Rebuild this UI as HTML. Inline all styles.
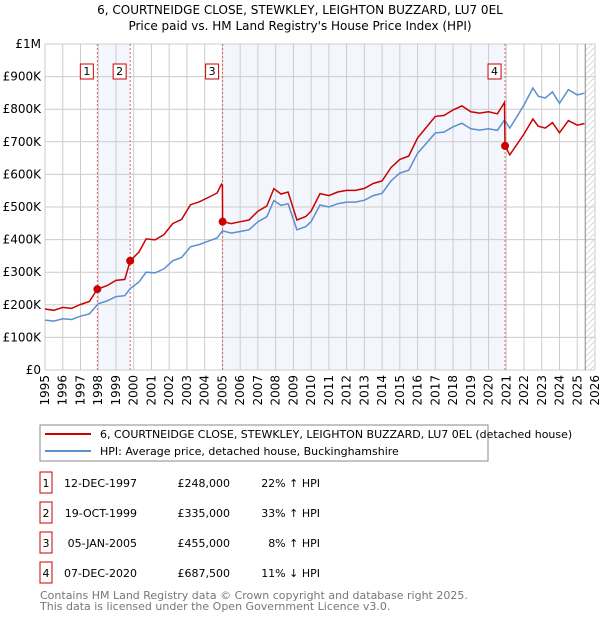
<!DOCTYPE html>
<html><head><meta charset="utf-8">
<style>
body{margin:0;background:#fff;font-family:"DejaVu Sans","Liberation Sans",sans-serif;}
svg{display:block}
</style></head><body>
<svg id="c" width="600" height="620" viewBox="0 0 600 620" xmlns="http://www.w3.org/2000/svg">
<text x="300" y="14" text-anchor="middle" font-size="12" fill="#000">6, COURTNEIDGE CLOSE, STEWKLEY, LEIGHTON BUZZARD, LU7 0EL</text>
<text x="300" y="30" text-anchor="middle" font-size="12" fill="#000">Price paid vs. HM Land Registry's House Price Index (HPI)</text>
<g id="plot"></g>
<rect x="40" y="425" width="448" height="36" fill="#fff" stroke="#888"/>
<line x1="45" y1="434" x2="91" y2="434" stroke="#cc0000" stroke-width="2"/>
<text x="100" y="438" font-size="11">6, COURTNEIDGE CLOSE, STEWKLEY, LEIGHTON BUZZARD, LU7 0EL (detached house)</text>
<line x1="45" y1="451" x2="91" y2="451" stroke="#5b8fd0" stroke-width="2"/>
<text x="100" y="455" font-size="11">HPI: Average price, detached house, Buckinghamshire</text>
<g id="table" font-size="11"></g>
<text x="40" y="599" font-size="11" fill="#777">Contains HM Land Registry data © Crown copyright and database right 2025.</text>
<text x="40" y="610" font-size="11" fill="#777">This data is licensed under the Open Government Licence v3.0.</text>
</svg>
<script>
const hpiYears=[1995.0,1995.5,1996.0,1996.5,1997.0,1997.5,1998.0,1998.5,1999.0,1999.5,1999.8,2000.3,2000.7,2001.2,2001.7,2002.2,2002.7,2003.2,2003.7,2004.2,2004.7,2005.0,2005.5,2006.0,2006.5,2007.0,2007.5,2007.9,2008.3,2008.7,2009.2,2009.7,2010.0,2010.5,2011.0,2011.5,2012.0,2012.5,2013.0,2013.5,2014.0,2014.5,2015.0,2015.5,2016.0,2016.5,2017.0,2017.5,2018.0,2018.5,2019.0,2019.5,2020.0,2020.5,2020.9,2021.2,2021.6,2022.0,2022.5,2022.8,2023.2,2023.6,2024.0,2024.5,2025.0,2025.4];
const hpiValues=[153,150,157,155,165,172,203,212,225,228,250,270,300,298,310,335,345,378,385,395,405,427,420,425,430,455,470,520,505,510,430,440,455,506,500,510,515,515,521,535,542,580,604,613,665,696,727,730,746,757,740,736,740,735,767,742,777,813,865,840,834,853,818,860,844,849];
const priceYears=[1995.0,1995.5,1996.0,1996.5,1997.0,1997.5,1997.95,1998.5,1999.0,1999.5,1999.8,2000.3,2000.7,2001.2,2001.7,2002.2,2002.7,2003.2,2003.7,2004.2,2004.7,2004.95,2005.0,2005.01,2005.5,2006.0,2006.5,2007.0,2007.5,2007.9,2008.3,2008.7,2009.2,2009.7,2010.0,2010.5,2011.0,2011.5,2012.0,2012.5,2013.0,2013.5,2014.0,2014.5,2015.0,2015.5,2016.0,2016.5,2017.0,2017.5,2018.0,2018.5,2019.0,2019.5,2020.0,2020.5,2020.9,2020.93,2021.2,2021.6,2022.0,2022.5,2022.8,2023.2,2023.6,2024.0,2024.5,2025.0,2025.4];
const priceValues=[187,183,192,189,201,210,248,259,275,278,335,362,402,399,415,449,462,507,516,529,543,570,567,455,449,455,460,487,503,556,540,546,460,471,487,541,535,546,551,551,557,572,580,621,646,656,712,745,778,781,798,810,792,788,792,786,821,687.5,660,692,724,770,748,742,759,728,765,751,756];
const saleYears=[1997.95,1999.8,2005.01,2020.93];
const salePrices=[248,335,455,687.5];
const saleLabels=["1","2","3","4"];
const saleDates=["12-DEC-1997","19-OCT-1999","05-JAN-2005","07-DEC-2020"];
const salePriceText=["£248,000","£335,000","£455,000","£687,500"];
const saleHpiText=["22% ↑ HPI","33% ↑ HPI","8% ↑ HPI","11% ↓ HPI"];
const yTicks=[0,100,200,300,400,500,600,700,800,900,1000];
const yTickLabels=["£0","£100K","£200K","£300K","£400K","£500K","£600K","£700K","£800K","£900K","£1M"];
const xTicks=[1995,1996,1997,1998,1999,2000,2001,2002,2003,2004,2005,2006,2007,2008,2009,2010,2011,2012,2013,2014,2015,2016,2017,2018,2019,2020,2021,2022,2023,2024,2025,2026];
const X0=45,X1=595,Y0=370,Y1=44;
const xs=y=>X0+(y-1995)/(2026-1995)*(X1-X0);
const ys=v=>Y0-v/1000*(Y0-Y1);
const NS="http://www.w3.org/2000/svg";
const plot=document.getElementById('plot');
function mk(tag,attrs,parent){const e=document.createElementNS(NS,tag);for(const k in attrs)e.setAttribute(k,attrs[k]);(parent||plot).appendChild(e);return e;}
let s=mk('rect',{x:xs(saleYears[0]),y:Y1,width:xs(saleYears[1])-xs(saleYears[0]),height:Y0-Y1,fill:'#eef3fc',opacity:0.7});


s=mk('rect',{x:xs(saleYears[2]),y:Y1,width:xs(saleYears[3])-xs(saleYears[2]),height:Y0-Y1,fill:'#eef3fc',opacity:0.7});


const defs=mk('defs',{});
const pat=mk('pattern',{id:'hatch',width:6,height:6,patternUnits:'userSpaceOnUse'},defs);
mk('path',{d:'M0,6 L6,0',stroke:'#ccc','stroke-width':0.7},pat);
s=mk('rect',{x:xs(2025.45),y:Y1,width:X1-xs(2025.45),height:Y0-Y1,fill:'url(#hatch)'});


yTicks.forEach((t,i)=>{
 const l=mk('line',{x1:X0,x2:X1,y1:ys(t),y2:ys(t),stroke:'#ccc','stroke-width':1});
 
 
 const tx=mk('text',{x:X0-4,y:ys(t)+4,'text-anchor':'end','font-size':12,fill:'#000'});
 tx.textContent=yTickLabels[i];
 
 
});
xTicks.forEach(t=>{
 const l=mk('line',{x1:xs(t),x2:xs(t),y1:Y1,y2:Y0,stroke:'#ccc','stroke-width':1});
 
 
 const x=xs(t)+4,y=375;
 const tx=mk('text',{x:x,y:y,'text-anchor':'end','font-size':12,fill:'#000',transform:`rotate(-90 ${x} ${y})`});
 tx.textContent=t;
 
 
});
s=mk('line',{x1:xs(2025.45),x2:xs(2025.45),y1:Y1,y2:Y0,stroke:'#888','stroke-width':1});


saleYears.forEach((y,i)=>{
 const l=mk('line',{x1:xs(y),x2:xs(y),y1:Y1,y2:Y0,stroke:'#e06060','stroke-width':1,'stroke-dasharray':'2,2'});
 
 
});
const pts=(xa,va)=>xa.map((x,i)=>xs(x).toFixed(1)+','+ys(va[i]).toFixed(1)).join(' ');
s=mk('polyline',{points:pts(hpiYears,hpiValues),fill:'none',stroke:'#5b8fd0','stroke-width':1.5});


s=mk('polyline',{points:pts(priceYears,priceValues),fill:'none',stroke:'#cc0000','stroke-width':1.5});


saleYears.forEach((y,i)=>{
 const c=mk('circle',{cx:xs(y),cy:ys(salePrices[i]),r:4,fill:'#cc0000'});
 
 
 const b=mk('rect',{x:xs(y)-17,y:64,width:13,height:15,fill:'#fff',stroke:'#cc0000'});
 
 
 const t=mk('text',{x:xs(y)-10.5,y:75,'text-anchor':'middle','font-size':11});
 t.textContent=saleLabels[i];
 
 
});
const tb=document.getElementById('table');
saleYears.forEach((y,i)=>{
 const cy=483+i*30;
 const b=mk('rect',{x:40,y:cy-11,width:12,height:21,fill:'#fff',stroke:'#cc0000'},tb);
 
 
 const cells=[[46,'middle',saleLabels[i]],[137,'end',saleDates[i]],[230,'end',salePriceText[i]],[320,'end',saleHpiText[i]]];
 cells.forEach(c=>{
  const t=mk('text',{x:c[0],y:cy+4,'text-anchor':c[1]},tb);
  t.textContent=c[2];
  
  
 });
});
</script>
</body></html>
